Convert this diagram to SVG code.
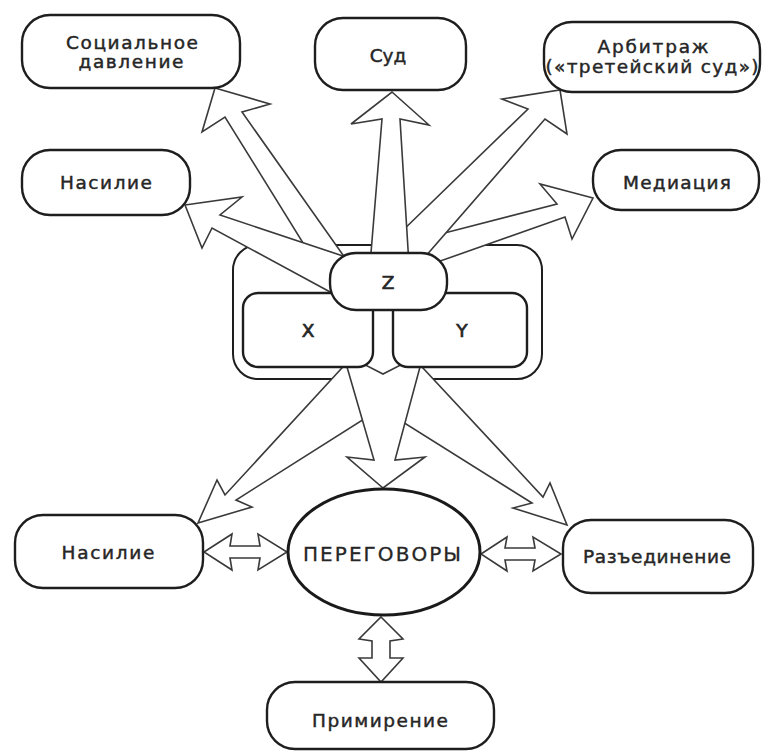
<svg xmlns="http://www.w3.org/2000/svg" width="762" height="753" viewBox="0 0 762 753">
<style>
.box{fill:#fff;stroke:#1e1e1e;stroke-width:2.4}
.arr{fill:#fff;stroke:#3a3a3a;stroke-width:1.6;stroke-linejoin:miter}
.t{font-family:"DejaVu Sans","Liberation Sans",sans-serif;font-size:18.5px;fill:#262626;stroke:#262626;stroke-width:0.45;text-anchor:middle}
</style>
<rect width="762" height="753" fill="#fff"/>
<g id="container"><rect class="box" x="233" y="245" width="309" height="134" rx="25" style="stroke-width:2"/></g>
<g id="connectors">
<polygon class="arr" points="215,88 270,104 242,112 355,272 321,272 225,117 202,132"/>
<polygon class="arr" points="185,205 242,197 220,215 358,261 345,300 212,228 202,248"/>
<polygon class="arr" points="593,198 540,184 557,204 425,238 429,265 565,217 572,239"/>
<polygon class="arr" points="560,90 567,134 545,119 418,265 395,238 528,109 502,99"/>
<polygon class="arr" points="392,92 429,125 400,119 409,265 370,265 382,119 351,124"/>
<polygon class="arr" points="352,357 225,495 217,480 198,523 252,507 236,500 380,409"/>
<polygon class="arr" points="415.5,360 543,497 550,483 567,525 513,508 532,503 390,414"/>
<polygon class="arr" points="347,367 374,460 347,457 383,488 425,457 395,460 420,367 400.5,365 383,374 365.5,365"/>
<polygon class="arr" points="204,552 232,534 230,546 260,546 258,534 287,552 258,570 260,558 230,558 232,570"/>
<polygon class="arr" points="481,554 507,537 505,548 535,548 533,537 561,554 533,571 535,560 505,560 507,571"/>
<polygon class="arr" points="381,617 403,639 390,641 390,658 403,658 381,682 359,658 372,658 372,641 359,639"/>
</g>
<g id="nodeX"><rect class="box" x="243" y="293" width="130" height="74" rx="15"/><text class="t" x="308" y="337" style="stroke-width:0.7">X</text></g>
<g id="nodeY"><rect class="box" x="393" y="293" width="134" height="74" rx="15"/><text class="t" x="462" y="337" style="stroke-width:0.7">Y</text></g>
<g id="nodeZ"><rect class="box" x="330" y="253" width="117" height="57" rx="26"/><text class="t" x="388" y="289" style="stroke-width:0.7">Z</text></g>
<g id="social"><rect class="box" x="22" y="15" width="218" height="73" rx="28"/><text class="t" x="132" y="49" textLength="132" lengthAdjust="spacing">Социальное</text><text class="t" x="131" y="68" textLength="105" lengthAdjust="spacing">давление</text></g>
<g id="court"><rect class="box" x="315" y="18" width="151" height="72" rx="28"/><text class="t" x="388" y="62">Суд</text></g>
<g id="arbitration"><rect class="box" x="544" y="22" width="216" height="70" rx="28"/><text class="t" x="653" y="53" textLength="111" lengthAdjust="spacing">Арбитраж</text><text class="t" x="652" y="73" textLength="213" lengthAdjust="spacing">(«третейский суд»)</text></g>
<g id="violenceTop"><rect class="box" x="22" y="150" width="168" height="65" rx="28"/><text class="t" x="106" y="189" textLength="92" lengthAdjust="spacing">Насилие</text></g>
<g id="mediation"><rect class="box" x="593" y="150" width="166" height="60" rx="28"/><text class="t" x="677" y="189" textLength="108" lengthAdjust="spacing">Медиация</text></g>
<g id="negotiations"><ellipse cx="384" cy="552" rx="96" ry="63" fill="#fff" stroke="#1a1a1a" stroke-width="3"/><text class="t" x="382" y="561" textLength="158" lengthAdjust="spacing" style="font-size:20px;stroke-width:0.3">ПЕРЕГОВОРЫ</text></g>
<g id="violenceBottom"><rect class="box" x="15" y="515" width="188" height="73" rx="28"/><text class="t" x="108" y="559" textLength="93" lengthAdjust="spacing">Насилие</text></g>
<g id="separation"><rect class="box" x="563" y="520" width="190" height="73" rx="28"/><text class="t" x="657" y="563" textLength="148" lengthAdjust="spacing">Разъединение</text></g>
<g id="reconciliation"><rect class="box" x="267" y="682" width="227" height="67" rx="28"/><text class="t" x="380" y="727" textLength="136" lengthAdjust="spacing">Примирение</text></g>
</svg>
